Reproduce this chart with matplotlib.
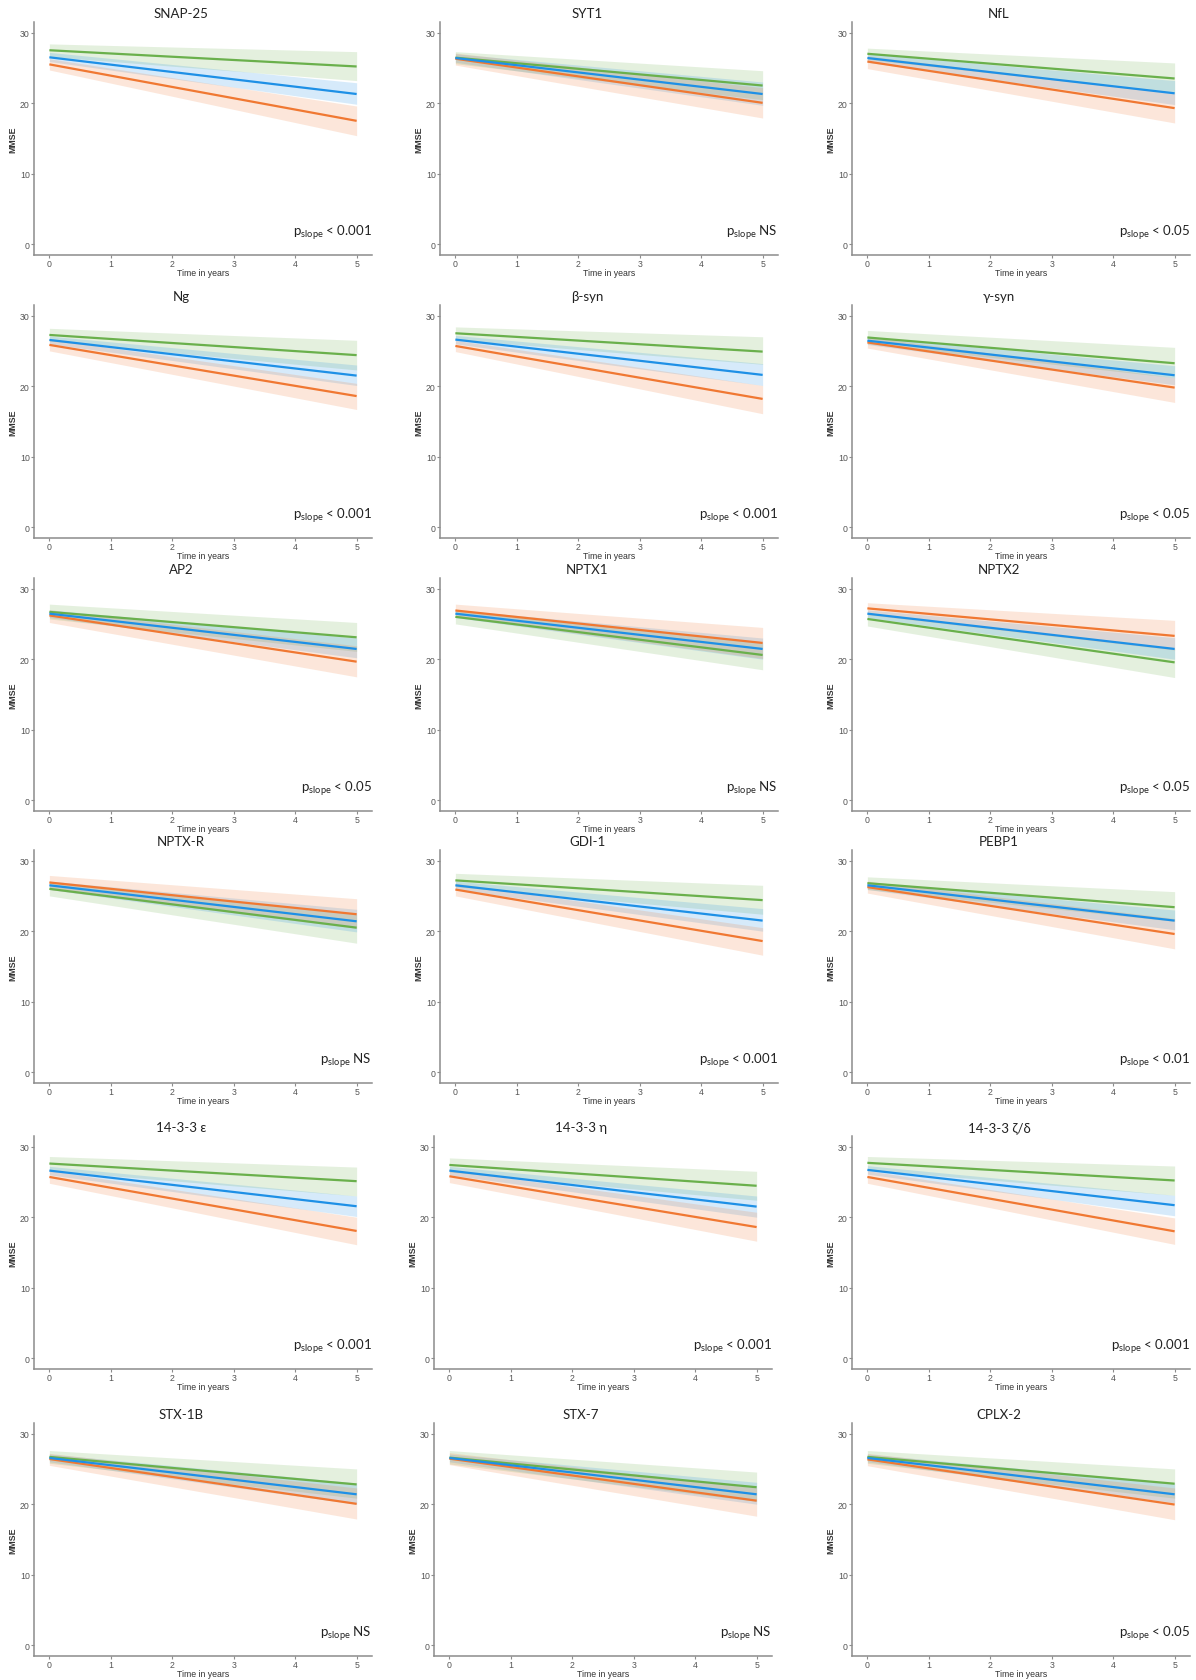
import numpy as np
import matplotlib.pyplot as plt

# --- panel names and p-value labels ---
titles = ["SNAP-25", "SYT1", "NfL",
          "Ng", "β-syn", "γ-syn",
          "AP2", "NPTX1", "NPTX2",
          "NPTX-R", "GDI-1", "PEBP1",
          "14-3-3 ε", "14-3-3 η", "14-3-3 ζ/δ",
          "STX-1B", "STX-7", "CPLX-2"]
p_labels = ["< 0.001", "NS", "< 0.05",
            "< 0.001", "< 0.001", "< 0.05",
            "< 0.05", "NS", "< 0.05",
            "NS", "< 0.001", "< 0.01",
            "< 0.001", "< 0.001", "< 0.001",
            "NS", "NS", "< 0.05"]

years = [0, 5]

# --- fitted MMSE at year 0 and year 5, with ribbon bounds ---
green_0 = [27.5, 26.45, 27.0, 27.26, 27.5, 26.9, 26.7, 26.0, 25.7, 26.0, 27.2, 26.8, 27.6, 27.4, 27.7, 26.7, 26.6, 26.7]
green_5 = [25.2, 22.5, 23.5, 24.4, 24.9, 23.25, 23.1, 20.6, 19.55, 20.5, 24.4, 23.4, 25.1, 24.45, 25.2, 22.8, 22.4, 22.9]
green_hi0 = [28.4, 27.3, 27.8, 28.2, 28.4, 27.9, 27.8, 26.9, 26.6, 26.9, 28.2, 27.7, 28.6, 28.4, 28.6, 27.6, 27.6, 27.6]
green_lo0 = [26.6, 25.6, 26.2, 26.4, 26.6, 26.0, 25.7, 25.0, 24.7, 25.0, 26.3, 25.9, 26.6, 26.4, 26.7, 25.8, 25.7, 25.8]
green_hi5 = [27.3, 24.6, 25.7, 26.5, 27.0, 25.5, 25.2, 22.3, 21.5, 22.4, 26.5, 25.6, 27.1, 26.5, 27.25, 25.0, 24.55, 25.0]
green_lo5 = [23.2, 20.5, 21.4, 22.3, 23.1, 21.2, 21.1, 18.5, 17.4, 18.3, 22.4, 21.4, 23.0, 22.4, 23.1, 20.85, 20.4, 20.85]

blue_0 = [26.5, 26.4, 26.4, 26.55, 26.6, 26.45, 26.45, 26.45, 26.45, 26.5, 26.5, 26.5, 26.6, 26.6, 26.7, 26.55, 26.55, 26.55]
blue_5 = [21.3, 21.3, 21.4, 21.5, 21.6, 21.55, 21.45, 21.45, 21.45, 21.4, 21.5, 21.5, 21.55, 21.5, 21.7, 21.4, 21.4, 21.4]
blue_hi0 = [27.2, 27.0, 27.0, 27.1, 27.2, 27.0, 27.0, 27.0, 27.0, 27.1, 27.1, 27.0, 27.2, 27.2, 27.3, 27.1, 27.1, 27.1]
blue_lo0 = [25.9, 25.8, 25.8, 26.0, 26.0, 25.9, 25.9, 25.9, 25.9, 25.9, 25.9, 25.9, 26.0, 26.0, 26.1, 26.0, 26.0, 26.0]
blue_hi5 = [22.9, 23.0, 23.2, 23.0, 23.2, 22.9, 23.0, 23.0, 23.05, 23.1, 23.2, 23.0, 23.0, 23.0, 23.1, 23.0, 23.1, 23.0]
blue_lo5 = [19.85, 19.7, 19.8, 20.1, 20.1, 20.2, 20.2, 20.0, 20.0, 19.9, 20.0, 20.2, 20.1, 20.0, 20.2, 20.0, 20.0, 20.2]

orange_0 = [25.5, 26.3, 25.9, 25.85, 25.7, 26.2, 26.2, 26.9, 27.2, 26.9, 25.9, 26.25, 25.7, 25.8, 25.7, 26.4, 26.45, 26.35]
orange_5 = [17.5, 20.05, 19.3, 18.6, 18.2, 19.8, 19.65, 22.3, 23.3, 22.4, 18.6, 19.6, 18.05, 18.6, 18.0, 20.05, 20.5, 19.95]
orange_hi0 = [26.3, 27.1, 26.7, 26.7, 26.5, 27.0, 27.0, 27.8, 28.0, 27.9, 26.8, 27.1, 26.6, 26.7, 26.6, 27.2, 27.3, 27.2]
orange_lo0 = [24.7, 25.4, 24.9, 25.0, 24.9, 25.4, 25.2, 26.0, 26.3, 25.9, 25.0, 25.4, 24.8, 24.9, 24.8, 25.5, 25.6, 25.45]
orange_hi5 = [19.6, 22.2, 21.4, 20.4, 20.1, 21.2, 21.9, 24.5, 25.5, 24.6, 20.5, 21.8, 20.0, 20.7, 19.9, 22.3, 22.3, 22.3]
orange_lo5 = [15.4, 17.9, 17.2, 16.7, 16.1, 17.7, 17.5, 20.1, 21.3, 20.4, 16.6, 17.5, 16.1, 16.6, 16.15, 17.9, 18.3, 17.8]

GREEN = "#6ab04c"
BLUE = "#1e90e6"
ORANGE = "#f07832"
AXIS_GREY = "#8c8c8c"

W, H = 1196, 1681
fig = plt.figure(figsize=(W / 100, H / 100), dpi=100)

col_left = [[34, 440, 852]] * 4 + [[34, 434, 852], [34, 434, 852]]
row_bottom = [256, 539, 812, 1084, 1370, 1657]
ax_w, ax_h = 338, 233

series = [
    (green_0, green_5, green_lo0, green_hi0, green_lo5, green_hi5, GREEN),
    (blue_0, blue_5, blue_lo0, blue_hi0, blue_lo5, blue_hi5, BLUE),
    (orange_0, orange_5, orange_lo0, orange_hi0, orange_lo5, orange_hi5, ORANGE),
]

for i, name in enumerate(titles):
    r, c = divmod(i, 3)
    left = col_left[r][c]
    bottom = row_bottom[r]
    ax = fig.add_axes([left / W, 1 - bottom / H, ax_w / W, ax_h / H])

    # ribbons
    for s0, s5, lo0, hi0, lo5, hi5, col in series:
        ax.fill_between(years, [lo0[i], lo5[i]], [hi0[i], hi5[i]],
                        color=col, alpha=0.18, lw=0)
    # lines (blue on top)
    for s0, s5, lo0, hi0, lo5, hi5, col in [series[0], series[2], series[1]]:
        ax.plot(years, [s0[i], s5[i]], color=col, lw=1.6, solid_capstyle="butt")

    ax.set_xlim(-0.25, 5.25)
    ax.set_ylim(-1.5, 31.5)
    ax.set_xticks([0, 1, 2, 3, 4, 5])
    ax.set_yticks([0, 10, 20, 30])
    for side in ["top", "right"]:
        ax.spines[side].set_visible(False)
    for side in ["left", "bottom"]:
        ax.spines[side].set_color(AXIS_GREY)
        ax.spines[side].set_linewidth(1.1)
    ax.tick_params(length=2, width=0.8, color=AXIS_GREY, pad=1,
                   labelsize=6.3, labelcolor="#555555")
    for lab in ax.get_xticklabels() + ax.get_yticklabels():
        lab.set_family("Liberation Sans")

    ax.set_xlabel("Time in years", fontsize=6.3, color="#333333",
                  family="Liberation Sans", labelpad=0)
    ax.set_ylabel("MMSE", fontsize=6.3, color="#333333", fontweight="bold",
                  family="Liberation Sans", labelpad=2)

    ax.text(0.435, 1.04, name, transform=ax.transAxes, ha="center", va="center",
            fontsize=9.5, family=["Lato", "DejaVu Sans"], color="#222222")
    ax.text(1.0, 0.086, r"p$_{\mathregular{slope}}$ " + p_labels[i],
            transform=ax.transAxes, ha="right", va="baseline",
            fontsize=9.5, family=["Lato", "DejaVu Sans"], color="#222222")

fig.savefig("out.png", dpi=100, facecolor="white")
